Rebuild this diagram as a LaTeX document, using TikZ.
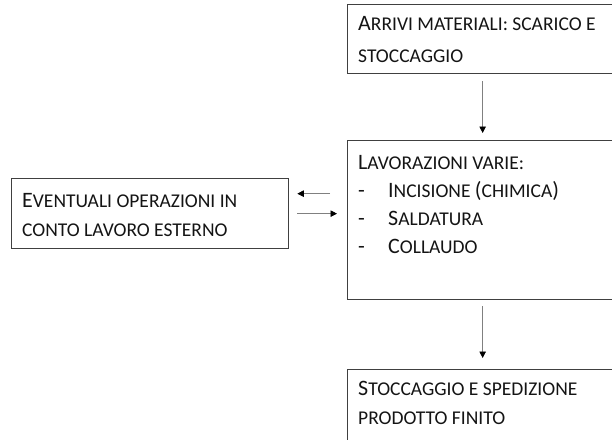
\documentclass[tikz,border=0pt]{standalone}
\usepackage{fontspec}
\setmainfont{Carlito}
\usetikzlibrary{arrows.meta}

\definecolor{boxgray}{HTML}{404040}
\definecolor{linegray}{HTML}{808080}
\definecolor{txtgray}{HTML}{141414}

% small capitals by hand (Carlito has none)
\newcommand\lsc[1]{{\fontsize{19.5}{19.5}\selectfont\MakeUppercase{#1}}}

\tikzset{
  box/.style={draw=boxgray, line width=1.3pt, minimum width=270pt, anchor=north west, inner sep=0pt},
  txt/.style={anchor=north west, align=left, inner sep=0pt, text=txtgray, font=\fontsize{22}{#1}\selectfont},
  arr/.style={draw=linegray, line width=0.8pt, -{Triangle[length=6.5pt,width=6.5pt,color=black]}},
}

\begin{document}
\begin{tikzpicture}[x=1pt,y=-1pt]
  \useasboundingbox (0,0) rectangle (612,439);
  \clip (0,0) rectangle (612,439);

  % boxes
  \node[box, minimum height=69pt] (arrivi) at (347,4) {};
  \node[box, minimum height=159pt] (lavor) at (347,140) {};
  \node[box, minimum width=277pt, minimum height=70pt] (eventuali) at (11,178) {};
  \node[box, minimum height=72pt] (stocc) at (347,369) {};

  % texts
  \node[txt=32pt] (arrivitxt) at ([shift={(11,12)}]arrivi.north west)
    {A\lsc{rrivi materiali: scarico e}\\\lsc{stoccaggio}};
  \node[txt=28pt] (lavortxt) at ([shift={(11,15)}]lavor.north west)
    {L\lsc{avorazioni varie:}\\
     \makebox[30pt][l]{-}I\lsc{ncisione }(\lsc{chimica})\\
     \makebox[30pt][l]{-}S\lsc{aldatura}\\
     \makebox[30pt][l]{-}C\lsc{ollaudo}};
  \node[txt=29.5pt] (eventualitxt) at ([shift={(11,15)}]eventuali.north west)
    {E\lsc{ventuali operazioni in}\\\lsc{conto lavoro esterno}};
  \node[txt=29pt] (stocctxt) at ([shift={(11,12)}]stocc.north west)
    {S\lsc{toccaggio e spedizione}\\\lsc{prodotto finito}};

  % arrows
  \draw[arr, shorten <=7pt, shorten >=7pt] (arrivi.south) -- (lavor.north);
  \draw[arr, shorten <=6pt, shorten >=11pt] (lavor.south) -- (stocc.north);
  \coordinate (ret) at ([yshift=20pt]eventuali.east);
  \draw[arr, shorten <=17pt, shorten >=8pt] (ret -| lavor.west) -- (ret);
  \draw[arr, shorten <=8pt, shorten >=10pt] (eventuali.east) -- (eventuali.east -| lavor.west);
\end{tikzpicture}
\end{document}
